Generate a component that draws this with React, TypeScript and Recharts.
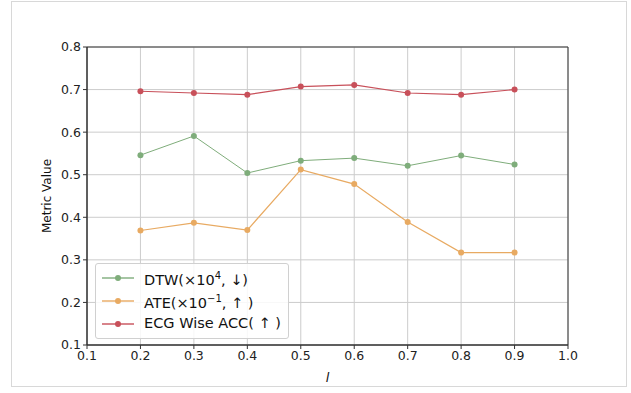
import { LineChart, Line, XAxis, YAxis, CartesianGrid, ReferenceArea, Label } from 'recharts';

// l values on the x axis
const lValues = [0.2, 0.3, 0.4, 0.5, 0.6, 0.7, 0.8, 0.9];
const dtwValues = [0.546, 0.591, 0.504, 0.533, 0.539, 0.521, 0.545, 0.524];
const ateValues = [0.369, 0.387, 0.370, 0.512, 0.478, 0.389, 0.317, 0.317];
const ecgAccValues = [0.696, 0.692, 0.688, 0.707, 0.711, 0.692, 0.688, 0.700];

const xTicks = [0.1, 0.2, 0.3, 0.4, 0.5, 0.6, 0.7, 0.8, 0.9, 1.0];
const yTicks = [0.1, 0.2, 0.3, 0.4, 0.5, 0.6, 0.7, 0.8];

const FONT = '"DejaVu Sans", sans-serif';
const GREEN = '#7fad7b';
const ORANGE = '#e8aa62';
const RED = '#c8505a';

const data = lValues.map((l, i) => ({
    l,
    dtw: dtwValues[i],
    ate: ateValues[i],
    acc: ecgAccValues[i],
}));

const legendItems = [
    { key: 'dtw', color: GREEN, label: <>DTW(×10<sup style={{ fontSize: 10 }}>4</sup>, ↓)</> },
    { key: 'ate', color: ORANGE, label: <>ATE(×10<sup style={{ fontSize: 10 }}>−1</sup>, ↑ )</> },
    { key: 'acc', color: RED, label: <>ECG Wise ACC( ↑ )</> },
];

// legend is drawn as plain html on top of the plot, like matplotlib's lower-left box
function ChartLegend() {
    return (
        <div style={{
            position: 'absolute', left: 95, top: 263,
            width: 192, height: 72, border: '1px solid #d0d0d0', borderRadius: 3,
            background: 'rgba(255,255,255,0.85)', fontFamily: FONT, fontSize: 14.5, color: '#111',
            boxSizing: 'content-box', paddingTop: 2, textAlign: 'left',
        }}>
            {legendItems.map((item) => (
                <div key={item.key} style={{ display: 'flex', alignItems: 'center', height: 23, lineHeight: '23px' }}>
                    <svg width={43} height={10} style={{ marginLeft: 5, marginRight: 0, flexShrink: 0 }}>
                        <line x1={1} y1={5} x2={33} y2={5} stroke={item.color} strokeWidth={1.4} />
                        <circle cx={17} cy={5} r={3} fill={item.color} />
                    </svg>
                    <span style={{ whiteSpace: 'nowrap' }}>{item.label}</span>
                </div>
            ))}
        </div>
    );
}

const tickStyle = { fontSize: 12.5, fill: '#222', fontFamily: FONT };

export default function App() {
    return (
        <div style={{ position: 'absolute', left: 0, top: 0, width: 631, height: 393, background: '#fff' }}>
            <div style={{ position: 'absolute', left: 11, top: 1, width: 614, height: 384, border: '1px solid #d8d8d8' }} />
            <LineChart width={631} height={393} data={data} margin={{ top: 47, right: 63, bottom: 0, left: 0 }}>
                <CartesianGrid stroke="#cccccc" strokeWidth={1} />
                <XAxis
                    dataKey="l"
                    type="number"
                    domain={[0.1, 1.0]}
                    ticks={xTicks}
                    tickFormatter={(v: number) => v.toFixed(1)}
                    height={48}
                    tickSize={4}
                    tick={tickStyle}
                    stroke="#333"
                    interval={0}
                    allowDataOverflow
                >
                    <Label
                        content={() => (
                            <text x={327.5} y={382} textAnchor="middle" fontFamily={FONT} fontStyle="italic" fontSize={13} fill="#111">l</text>
                        )}
                    />
                </XAxis>
                <YAxis
                    type="number"
                    domain={[0.1, 0.8]}
                    ticks={yTicks}
                    tickFormatter={(v: number) => v.toFixed(1)}
                    width={87}
                    tickSize={4}
                    tick={tickStyle}
                    stroke="#333"
                    interval={0}
                    allowDataOverflow
                >
                    <Label
                        content={() => (
                            <text x={47} y={196} transform="rotate(-90 47 196)" textAnchor="middle" dominantBaseline="central" fontFamily={FONT} fontSize={12} fill="#111">Metric Value</text>
                        )}
                    />
                </YAxis>
                <ReferenceArea x1={0.1} x2={1.0} y1={0.1} y2={0.8} fill="none" stroke="#333" strokeWidth={1} />
                <Line dataKey="dtw" stroke={GREEN} strokeWidth={1} dot={{ r: 3, fill: GREEN, stroke: GREEN, strokeWidth: 0 }} activeDot={false} isAnimationActive={false} />
                <Line dataKey="ate" stroke={ORANGE} strokeWidth={1.2} dot={{ r: 3, fill: ORANGE, stroke: ORANGE, strokeWidth: 0 }} activeDot={false} isAnimationActive={false} />
                <Line dataKey="acc" stroke={RED} strokeWidth={1.2} dot={{ r: 3, fill: RED, stroke: RED, strokeWidth: 0 }} activeDot={false} isAnimationActive={false} />
            </LineChart>
            <ChartLegend />
        </div>
    );
}
